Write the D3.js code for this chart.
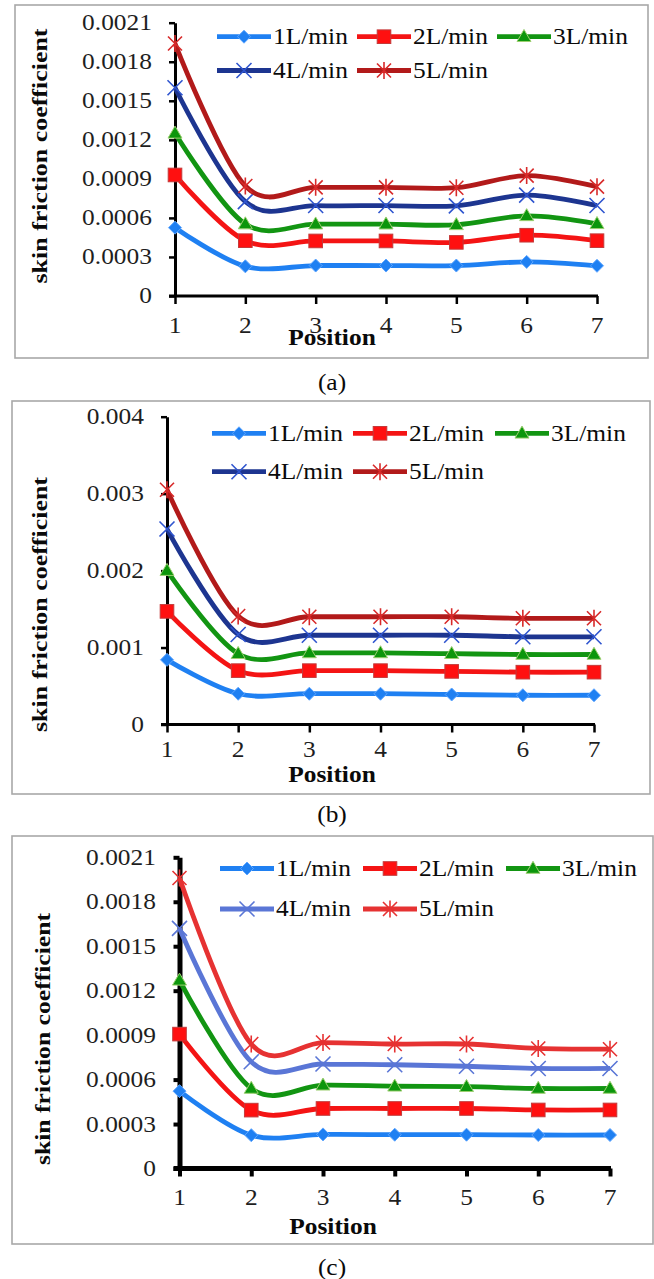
<!DOCTYPE html>
<html>
<head>
<meta charset="utf-8">
<script src="https://cdn.jsdelivr.net/npm/d3@7"></script>
<style>
  html, body { margin: 0; padding: 0; background: #fff; }
  svg { display: block; }
</style>
</head>
<body>
<svg id="chart" width="654" height="1279"></svg>
<script>
// ---------------- DATA ----------------
const positions = [1, 2, 3, 4, 5, 6, 7];
const seriesNames = ["1L/min", "2L/min", "3L/min", "4L/min", "5L/min"];
const captions = ["(a)", "(b)", "(c)"];
const xTitle = "Position";
const yTitle = "skin friction coefficient";

// Panel (a)
const a1L = [0.000525, 0.000228, 0.000234, 0.000234, 0.000234, 0.000262, 0.000232];
const a2L = [0.00093, 0.000425, 0.000423, 0.000423, 0.000412, 0.000467, 0.000425];
const a3L = [0.00125, 0.000553, 0.000552, 0.000552, 0.000547, 0.000616, 0.000555];
const a4L = [0.0016, 0.000725, 0.000695, 0.000695, 0.000693, 0.000775, 0.000695];
const a5L = [0.00194, 0.000845, 0.000835, 0.000835, 0.000832, 0.000925, 0.00084];
const aTickVals = [0, 0.0003, 0.0006, 0.0009, 0.0012, 0.0015, 0.0018, 0.0021];
const aTickLabels = ["0", "0.0003", "0.0006", "0.0009", "0.0012", "0.0015", "0.0018", "0.0021"];

// Panel (b)
const b1L = [0.00084, 0.0004, 0.0004, 0.0004, 0.00039, 0.00038, 0.00038];
const b2L = [0.00147, 0.0007, 0.0007, 0.0007, 0.00069, 0.00068, 0.00068];
const b3L = [0.002, 0.00092, 0.00093, 0.00093, 0.00092, 0.00091, 0.00091];
const b4L = [0.00254, 0.00117, 0.00116, 0.00116, 0.00116, 0.00114, 0.00114];
const b5L = [0.00305, 0.00141, 0.0014, 0.0014, 0.0014, 0.00138, 0.00138];
const bTickVals = [0, 0.001, 0.002, 0.003, 0.004];
const bTickLabels = ["0", "0.001", "0.002", "0.003", "0.004"];

// Panel (c)
const c1L = [0.000522, 0.000225, 0.00023, 0.000228, 0.000228, 0.000226, 0.000226];
const c2L = [0.000907, 0.000394, 0.000405, 0.000405, 0.000405, 0.000395, 0.000395];
const c3L = [0.00127, 0.00054, 0.000562, 0.000555, 0.000552, 0.00054, 0.00054];
const c4L = [0.00162, 0.00072, 0.000705, 0.0007, 0.00069, 0.000675, 0.000675];
const c5L = [0.00196, 0.00084, 0.00085, 0.00084, 0.00084, 0.00081, 0.000805];
const cTickVals = aTickVals;
const cTickLabels = aTickLabels;

// ---------------- STYLE ----------------
const FONT = "'Liberation Serif', 'Times New Roman', serif";
const SX = 1.13;      // horizontal stretch of the original raster text
const FS = 22.5;

const markerTypes = ["diamond", "square", "triangle", "x", "star"];
const styleAB = [
  { line: "#1f80f2", fill: "#1f80f2", edge: "#5fa6ff" },
  { line: "#f41414", fill: "#ff1010", edge: "#c43a3a" },
  { line: "#129512", fill: "#0c960c", edge: "#9ccf70" },
  { line: "#1d3590", fill: "none",    edge: "#2f55cf" },
  { line: "#b21a1a", fill: "none",    edge: "#d82a2a" }
];
const styleC = [
  { line: "#1f80f2", fill: "#1f80f2", edge: "#5fa6ff" },
  { line: "#f41414", fill: "#ff1010", edge: "#c43a3a" },
  { line: "#129512", fill: "#0c960c", edge: "#9ccf70" },
  { line: "#5a76d6", fill: "none",    edge: "#5a76d6" },
  { line: "#e63232", fill: "none",    edge: "#e63232" }
];

const svg = d3.select("#chart");

function txt(g, x, y, s, o = {}) {
  const t = g.append("text")
    .attr("transform", `translate(${x},${y}) scale(${o.sx || SX},1)`)
    .attr("text-anchor", o.anchor || "middle")
    .attr("dominant-baseline", "central")
    .attr("font-family", FONT)
    .attr("font-size", o.fs || FS)
    .attr("font-weight", o.bold ? "bold" : "normal")
    .attr("fill", o.fill || "#0a0a0a")
    .text(s);
  return t;
}

function marker(g, type, cx, cy, st) {
  if (type === "diamond") {
    const r = 6.5;
    g.append("path").attr("d", `M${cx},${cy - r}L${cx + r},${cy}L${cx},${cy + r}L${cx - r},${cy}Z`)
      .attr("fill", st.fill).attr("stroke", st.edge).attr("stroke-width", 1);
  } else if (type === "square") {
    const r = 6.8;
    g.append("rect").attr("x", cx - r).attr("y", cy - r).attr("width", 2 * r).attr("height", 2 * r)
      .attr("fill", st.fill).attr("stroke", st.edge).attr("stroke-width", 1);
  } else if (type === "triangle") {
    const w = 7, h = 12;
    g.append("path").attr("d", `M${cx},${cy - h * 0.6}L${cx + w},${cy + h * 0.4}L${cx - w},${cy + h * 0.4}Z`)
      .attr("fill", st.fill).attr("stroke", st.edge).attr("stroke-width", 1);
  } else if (type === "x") {
    const r = 7.5;
    g.append("path").attr("d", `M${cx - r},${cy - r}L${cx + r},${cy + r}M${cx - r},${cy + r}L${cx + r},${cy - r}`)
      .attr("stroke", st.edge).attr("stroke-width", 1.6).attr("fill", "none");
  } else if (type === "star") {
    const r = 7;
    g.append("path").attr("d", `M${cx - r},${cy - r}L${cx + r},${cy + r}M${cx - r},${cy + r}L${cx + r},${cy - r}M${cx},${cy - r - 1.5}L${cx},${cy + r + 1.5}`)
      .attr("stroke", st.edge).attr("stroke-width", 1.6).attr("fill", "none");
  }
}

function drawPanel(cfg) {
  const g = svg.append("g");
  // frame
  g.append("rect")
    .attr("x", cfg.box[0]).attr("y", cfg.box[1])
    .attr("width", cfg.box[2] - cfg.box[0]).attr("height", cfg.box[3] - cfg.box[1])
    .attr("fill", "none").attr("stroke", "#a8a8a8").attr("stroke-width", 1.6);

  const x = d3.scaleLinear().domain([1, 7]).range([cfg.x1, cfg.x7]);
  const y = d3.scaleLinear().domain([0, cfg.yMax]).range([cfg.y0, cfg.yTop]);

  // axes
  const yAx = g.append("g").attr("transform", `translate(${cfg.x1},0)`)
    .call(d3.axisLeft(y).tickValues(cfg.tickVals).tickFormat("").tickSizeInner(6).tickSizeOuter(0));
  const xAx = g.append("g").attr("transform", `translate(0,${cfg.y0})`)
    .call(d3.axisBottom(x).tickValues(positions).tickFormat("").tickSizeInner(8).tickSizeOuter(0));
  [yAx, xAx].forEach(ax => {
    ax.select(".domain").attr("stroke", "#000").attr("stroke-width", cfg.axisW);
    ax.selectAll(".tick line").attr("stroke", "#000").attr("stroke-width", cfg.tickW);
  });
  xAx.select(".domain").attr("d", `M${cfg.x1 - 6},0H${cfg.x7 + 1}`);

  // y tick labels
  cfg.tickVals.forEach((v, i) => {
    txt(g, cfg.yLabRight, y(v), cfg.tickLabels[i], { anchor: "end", fill: "#1e1e1e" });
  });
  // x tick labels
  positions.forEach(p => {
    txt(g, x(p), cfg.xLabY, String(p), { fill: "#1e1e1e" });
  });

  // series
  const line = d3.line().x((d, i) => x(positions[i])).y(d => y(d)).curve(d3.curveCardinal.tension(0));
  cfg.series.forEach((vals, si) => {
    const st = cfg.styles[si];
    g.append("path").attr("d", line(vals)).attr("fill", "none")
      .attr("stroke", st.line).attr("stroke-width", 4.8).attr("stroke-linejoin", "round");
    vals.forEach((v, i) => marker(g, markerTypes[si], x(positions[i]), y(v), st));
  });

  // legend
  seriesNames.forEach((name, si) => {
    const row = si < 3 ? 0 : 1;
    const col = si < 3 ? si : si - 3;
    const lx = cfg.legX[col], ly = cfg.legY[row];
    const st = cfg.styles[si];
    g.append("line").attr("x1", lx).attr("x2", lx + 54).attr("y1", ly).attr("y2", ly)
      .attr("stroke", st.line).attr("stroke-width", 4.8);
    marker(g, markerTypes[si], lx + 27, ly, st);
    txt(g, lx + 56, ly, name, { anchor: "start" });
  });

  // axis titles
  txt(g, cfg.xTitle[0], cfg.xTitle[1], xTitle, { bold: true });
  g.append("text")
    .attr("transform", `translate(${cfg.yTitle[0]},${cfg.yTitle[1]}) rotate(-90)`)
    .attr("text-anchor", "middle").attr("dominant-baseline", "central")
    .attr("font-family", FONT).attr("font-size", 21.5).attr("font-weight", "bold")
    .attr("fill", "#0a0a0a")
    .attr("textLength", cfg.yTitle[2]).attr("lengthAdjust", "spacingAndGlyphs")
    .text(yTitle);

  // caption
  txt(svg, cfg.cap[0], cfg.cap[1], cfg.capText);
}

drawPanel({
  box: [15, 5, 648, 358],
  x1: 175, x7: 597, y0: 296, yTop: 22.7, yMax: 0.0021,
  tickVals: aTickVals, tickLabels: aTickLabels,
  yLabRight: 152, xLabY: 326,
  axisW: 3, tickW: 2.5,
  series: [a1L, a2L, a3L, a4L, a5L], styles: styleAB,
  legX: [217, 357, 497], legY: [36.7, 70.5],
  xTitle: [332, 338], yTitle: [40, 156, 255],
  cap: [332, 383], capText: captions[0]
});

drawPanel({
  box: [12, 401, 650, 794],
  x1: 167, x7: 594, y0: 724.5, yTop: 416.7, yMax: 0.004,
  tickVals: bTickVals, tickLabels: bTickLabels,
  yLabRight: 144, xLabY: 750,
  axisW: 3, tickW: 2.5,
  series: [b1L, b2L, b3L, b4L, b5L], styles: styleAB,
  legX: [212, 353, 495], legY: [433.3, 471.7],
  xTitle: [332, 775], yTitle: [40, 604.5, 255],
  cap: [332, 815], capText: captions[1]
});

drawPanel({
  box: [12, 836, 653, 1244],
  x1: 179.5, x7: 610, y0: 1168.5, yTop: 857.3, yMax: 0.0021,
  tickVals: cTickVals, tickLabels: cTickLabels,
  yLabRight: 156, xLabY: 1198,
  axisW: 5, tickW: 4,
  series: [c1L, c2L, c3L, c4L, c5L], styles: styleC,
  legX: [220, 363, 506], legY: [868.5, 909],
  xTitle: [333, 1227], yTitle: [43, 1039, 252],
  cap: [332, 1268], capText: captions[2]
});
</script>
</body>
</html>
